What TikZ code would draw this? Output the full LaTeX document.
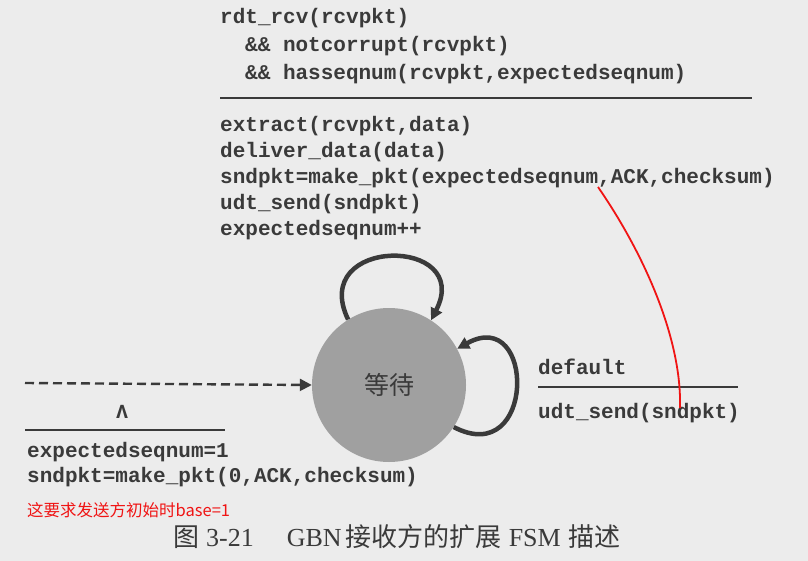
\documentclass[tikz,border=0pt]{standalone}
\usepackage{fontspec}
\setmonofont{Liberation Mono}
\newfontfamily\cjk{Noto Sans CJK SC}
\newfontfamily\capserif{Liberation Serif}
\usetikzlibrary{arrows.meta}
\definecolor{fsmpage}{RGB}{236,236,236}
\definecolor{fsmink}{RGB}{58,58,58}
\definecolor{fsmstate}{RGB}{160,160,160}
\definecolor{fsmred}{RGB}{240,20,20}

\tikzset{
  code/.style={font=\ttfamily\bfseries\fontsize{21pt}{26pt}\selectfont, text=fsmink, inner sep=0pt, anchor=base west},
  rule/.style={fsmink, line width=2.6pt},
  loopline/.style={fsmink, line width=4.5pt, -{Triangle[length=12pt,width=12pt]}}
}

\begin{document}
\begin{tikzpicture}[x=1pt, y=-1pt]
  \fill[fsmpage] (0,0) rectangle (808,561);
  \useasboundingbox (0,0) rectangle (808,561);

  % state
  \node[circle, fill=fsmstate, minimum size=154pt, inner sep=0pt] (wait) at (389,385) {};
  \node[font=\cjk\fontsize{25pt}{25pt}\selectfont, text=fsmink] (waitlabel) at (wait) {等待};

  % guard and actions of the upper loop
  \node[code] (g1) at (220,24) {rdt\_rcv(rcvpkt)};
  \node[code] (g2) at (245,52) {\&\& notcorrupt(rcvpkt)};
  \node[code] (g3) at (245,80) {\&\& hasseqnum(rcvpkt,expectedseqnum)};
  \draw[rule] (220,98) -- (752,98);
  \node[code] (a1) at (220,132) {extract(rcvpkt,data)};
  \node[code] (a2) at (220,158) {deliver\_data(data)};
  \node[code] (a3) at (220,184) {sndpkt=make\_pkt(expectedseqnum,ACK,checksum)};
  \node[code] (a4) at (220,210) {udt\_send(sndpkt)};
  \node[code] (a5) at (220,236) {expectedseqnum++};

  % initial transition
  \coordinate (init) at (25,383);
  \draw[fsmink, line width=2.4pt, dash pattern=on 9pt off 5pt, -{Triangle[length=12pt,width=12pt]}] (init) -- (wait.west);
  \node[code, anchor=center, font=\ttfamily\bfseries\fontsize{20pt}{20pt}\selectfont] (lambda) at (122,412) {Λ};
  \draw[rule] (25,430) -- (225,430);
  \node[code] (i1) at (27,457) {expectedseqnum=1};
  \node[code] (i2) at (27,482) {sndpkt=make\_pkt(0,ACK,checksum)};

  % self loops
  \draw[loopline] (wait.122) .. controls (308,236) and (474,236) .. (wait.57);
  \draw[loopline] (wait.-33) .. controls (536,470) and (536,305) .. (wait.28);

  % default transition
  \node[code] (d1) at (538,374) {default};
  \draw[rule] (538,387) -- (738,387);
  \node[code] (d2) at (538,418) {udt\_send(sndpkt)};

  % note in red
  \coordinate (noteA) at (598,187);
  \coordinate (noteB) at (680,408);
  \draw[fsmred, line width=1.8pt] (noteA) .. controls (645,255) and (682,340) .. (noteB);
  \node[anchor=base west, inner sep=0pt, text=fsmred, font=\cjk\fontsize{16.5pt}{16.5pt}\selectfont] (note) at (27,516) {这要求发送方初始时base=1};

  % caption
  \node[anchor=base west, inner sep=0pt, text=fsmink, font=\capserif\fontsize{26pt}{26pt}\selectfont] (caption) at (173,546)
    {{\cjk 图}\hspace{7pt}3-21\hspace{33pt}GBN\hspace{4pt}{\cjk 接收方的扩展}\hspace{7pt}FSM\hspace{8pt}{\cjk 描述}};
\end{tikzpicture}
\end{document}
